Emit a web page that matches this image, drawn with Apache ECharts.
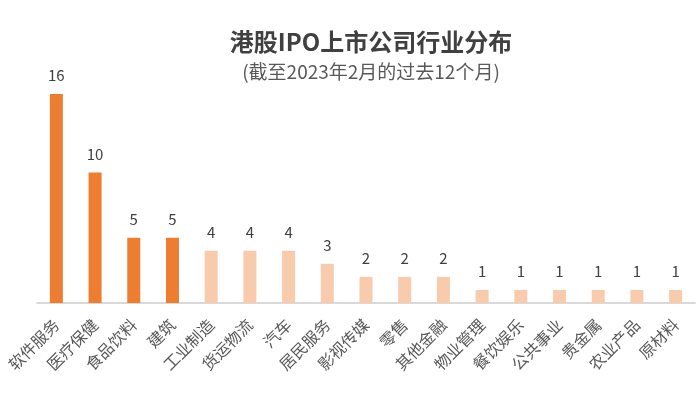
<!DOCTYPE html>
<html>
<head>
<meta charset="utf-8">
<script src="https://cdn.jsdelivr.net/npm/echarts@6/dist/echarts.min.js"></script>
<style>
  html, body { margin: 0; padding: 0; background: #fff; }
  #main { width: 700px; height: 403px; }
</style>
</head>
<body>
<div id="main"></div>
<script>
// 行业分类及上市公司数量
var industries = ['软件服务', '医疗保健', '食品饮料', '建筑', '工业制造', '货运物流', '汽车', '居民服务',
  '影视传媒', '零售', '其他金融', '物业管理', '餐饮娱乐', '公共事业', '贵金属', '农业产品', '原材料'];
var counts = [16, 10, 5, 5, 4, 4, 4, 3, 2, 2, 2, 1, 1, 1, 1, 1, 1];
// 前四个行业用深色
var highlightCount = 4;

var darkOrange = '#ED7D31';
var lightOrange = '#F8CBAD';
var fontCJK = '"Noto Sans CJK SC", "Noto Sans", sans-serif';

var myChart = echarts.init(document.getElementById('main'));

var option = {
  backgroundColor: '#ffffff',
  animation: false,
  title: [
    {
      text: '港股IPO上市公司行业分布',
      left: 366,
      top: 25,
      textAlign: 'center',
      textStyle: { fontFamily: fontCJK, fontSize: 24, fontWeight: 'bold', color: '#404040' }
    },
    {
      text: '(截至2023年2月的过去12个月)',
      left: 366,
      top: 57,
      textAlign: 'center',
      textStyle: { fontFamily: fontCJK, fontSize: 19, fontWeight: 'normal', color: '#595959' }
    }
  ],
  grid: {
    left: 37,
    right: 5,
    top: 94,
    bottom: 100
  },
  xAxis: {
    type: 'category',
    data: industries,
    axisTick: { show: false },
    axisLine: { lineStyle: { color: '#D9D9D9', width: 2 } },
    axisLabel: {
      interval: 0,
      rotate: 45,
      margin: 19,
      fontFamily: fontCJK,
      fontSize: 16,
      color: '#595959'
    }
  },
  yAxis: {
    type: 'value',
    min: 0,
    max: 16,
    show: false,
    splitLine: { show: false }
  },
  series: [
    {
      type: 'bar',
      barWidth: 13,
      data: counts.map(function (v, i) {
        return { value: v, itemStyle: { color: i < highlightCount ? darkOrange : lightOrange } };
      }),
      label: {
        show: true,
        position: 'top',
        distance: 11,
        fontFamily: fontCJK,
        fontSize: 15,
        color: '#404040'
      }
    }
  ]
};
myChart.setOption(option);
</script>
</body>
</html>
